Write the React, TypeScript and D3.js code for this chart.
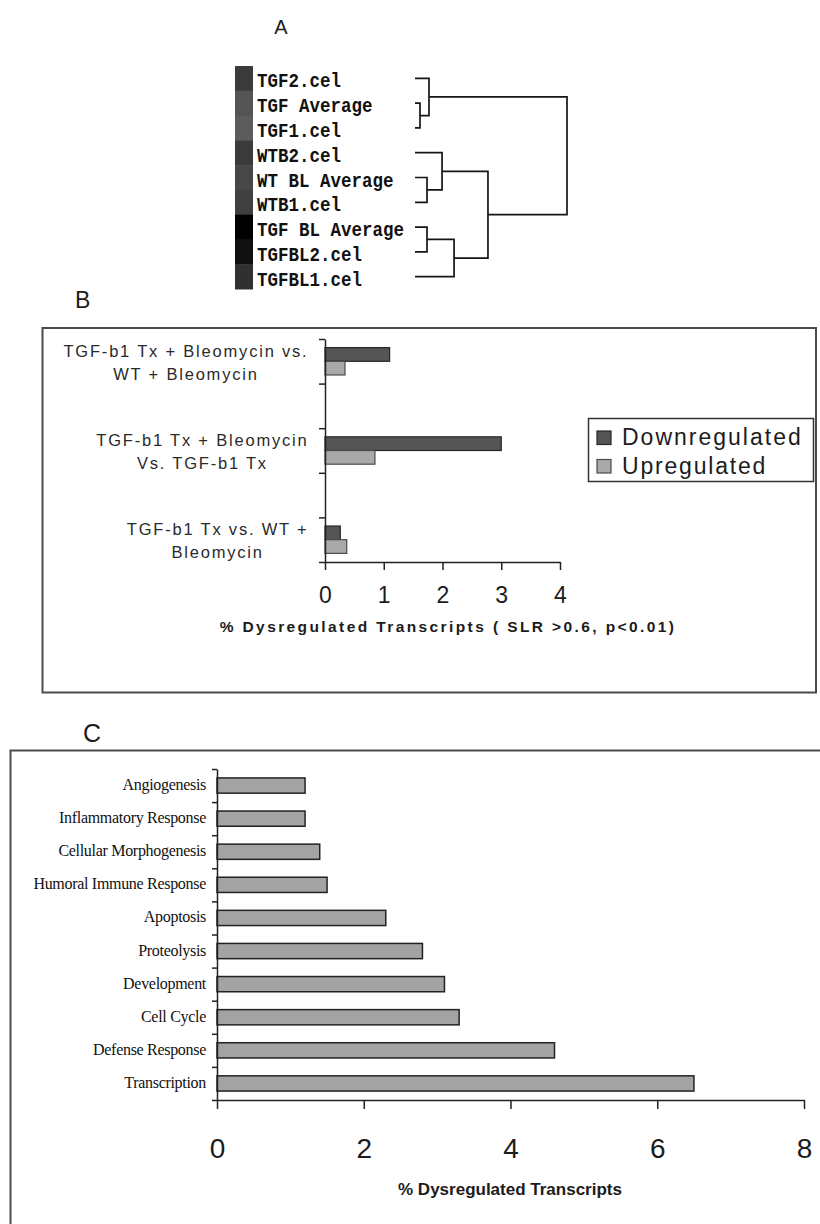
import { useEffect, useRef } from "react";
import * as d3 from "d3";

// ---- panel A: sample clustering ----
const samples = [
  "TGF2.cel",
  "TGF Average",
  "TGF1.cel",
  "WTB2.cel",
  "WT BL Average",
  "WTB1.cel",
  "TGF BL Average",
  "TGFBL2.cel",
  "TGFBL1.cel",
];
// heat-strip intensity, 0 = white, 1 = black
const sampleSignal = [0.77, 0.67, 0.64, 0.77, 0.72, 0.75, 1.0, 0.94, 0.81];
// linkage rows: [left, right, new node, merge distance]
const linkage: [string, string, string, number][] = [
  ["TGF Average", "TGF1.cel", "n1", 0.033],
  ["TGF2.cel", "n1", "n2", 0.092],
  ["WT BL Average", "WTB1.cel", "n3", 0.079],
  ["WTB2.cel", "n3", "n4", 0.178],
  ["TGF BL Average", "TGFBL2.cel", "n5", 0.079],
  ["n5", "TGFBL1.cel", "n6", 0.257],
  ["n4", "n6", "n7", 0.48],
  ["n2", "n7", "root", 1.0],
];

// ---- panel B: dysregulated transcripts per comparison ----
const bCategoryLines: string[][] = [
  ["TGF-b1 Tx + Bleomycin vs.", "WT + Bleomycin"],
  [],
  ["TGF-b1 Tx + Bleomycin", "Vs. TGF-b1 Tx"],
  [],
  ["TGF-b1 Tx vs. WT +", "Bleomycin"],
];
const bSeries = ["Downregulated", "Upregulated"];
const bDown: (number | null)[] = [1.1, null, 3.0, null, 0.26];
const bUp: (number | null)[] = [0.34, null, 0.85, null, 0.37];
const bTicks = [0, 1, 2, 3, 4];

// ---- panel C: GO categories ----
const cCategories = [
  "Angiogenesis",
  "Inflammatory Response",
  "Cellular Morphogenesis",
  "Humoral Immune Response",
  "Apoptosis",
  "Proteolysis",
  "Development",
  "Cell Cycle",
  "Defense Response",
  "Transcription",
];
const cValues = [1.2, 1.2, 1.4, 1.5, 2.3, 2.8, 3.1, 3.3, 4.6, 6.5];
const cTicks = [0, 2, 4, 6, 8];

const SANS = "'Liberation Sans', Arial, sans-serif";
const SERIF = "'Liberation Serif', 'Times New Roman', serif";
const MONO = "'Liberation Mono', 'Courier New', monospace";
const INK = "#1c1c1c";

type Sel = d3.Selection<SVGSVGElement, unknown, null, undefined>;

function drawA(svg: Sel) {
  const g = svg.append("g");
  const rowY = d3.scaleBand<string>().domain(samples).range([66, 289]);
  const shade = d3
    .scaleLinear<string>()
    .domain([0, 1])
    .range(["#ffffff", "#000000"]);

  g.append("text")
    .attr("x", 281)
    .attr("y", 34)
    .attr("text-anchor", "middle")
    .style("font-family", SANS)
    .style("font-size", "20px")
    .style("fill", INK)
    .text("A");

  g.selectAll("rect.cell")
    .data(samples)
    .join("rect")
    .attr("class", "cell")
    .attr("x", 235)
    .attr("width", 18)
    .attr("y", (d) => rowY(d)!)
    .attr("height", rowY.bandwidth() + 0.5)
    .attr("fill", (_d, i) => shade(sampleSignal[i]));

  g.selectAll("text.sample")
    .data(samples)
    .join("text")
    .attr("class", "sample")
    .attr(
      "transform",
      (d) => `translate(257,${rowY(d)! + rowY.bandwidth() / 2 + 9}) scale(1,1.2)`,
    )
    .style("font-family", MONO)
    .style("font-weight", "700")
    .style("font-size", "17.5px")
    .style("fill", "#111")
    .text((d) => d);

  // dendrogram elbows
  const dist = d3.scaleLinear().domain([0, 1]).range([415, 567]);
  const nodeY = new Map<string, number>();
  const nodeH = new Map<string, number>();
  samples.forEach((s) => {
    nodeY.set(s, rowY(s)! + rowY.bandwidth() / 2);
    nodeH.set(s, 0);
  });
  const p = d3.path();
  linkage.forEach(([a, b, id, h]) => {
    const ya = nodeY.get(a)!;
    const yb = nodeY.get(b)!;
    const xn = dist(h);
    p.moveTo(dist(nodeH.get(a)!), ya);
    p.lineTo(xn, ya);
    p.lineTo(xn, yb);
    p.lineTo(dist(nodeH.get(b)!), yb);
    nodeY.set(id, (ya + yb) / 2);
    nodeH.set(id, h);
  });
  g.append("path")
    .attr("d", p.toString())
    .attr("fill", "none")
    .attr("stroke", "#151515")
    .attr("stroke-width", 1.7);
}

function drawB(svg: Sel) {
  const g = svg.append("g");

  g.append("text")
    .attr("x", 75)
    .attr("y", 308)
    .style("font-family", SANS)
    .style("font-size", "23px")
    .style("fill", INK)
    .text("B");

  g.append("rect")
    .attr("x", 42.5)
    .attr("y", 328)
    .attr("width", 773.5)
    .attr("height", 364.5)
    .attr("fill", "none")
    .attr("stroke", "#4a4a4a")
    .attr("stroke-width", 2);

  const n = bCategoryLines.length;
  const x = d3.scaleLinear().domain([0, 4]).range([325, 560]);
  const band = d3.scaleBand<number>().domain(d3.range(n)).range([339, 562]);
  const sub = d3
    .scaleBand<string>()
    .domain(bSeries)
    .range([0, band.bandwidth()])
    .paddingOuter(0.63);
  const tickY = d3.scaleLinear().domain([0, n]).range([339, 562]);
  const fills = ["#555555", "#a9a9a9"];
  const strokes = ["#262626", "#4a4a4a"];

  [bDown, bUp].forEach((vals, s) => {
    vals.forEach((v, i) => {
      if (v == null) return;
      g.append("rect")
        .attr("x", x(0))
        .attr("y", band(i)! + sub(bSeries[s])!)
        .attr("width", x(v) - x(0))
        .attr("height", sub.bandwidth())
        .attr("fill", fills[s])
        .attr("stroke", strokes[s])
        .attr("stroke-width", 1.2);
    });
  });

  // y axis with category separators
  const ya = g
    .append("g")
    .attr("transform", `translate(${x(0)},0)`)
    .call(
      d3
        .axisLeft(tickY)
        .tickValues(d3.range(n + 1))
        .tickFormat(() => "")
        .tickSize(6)
        .tickSizeOuter(0),
    );
  ya.selectAll("path,line").attr("stroke", "#222").attr("stroke-width", 1.5);

  // x axis
  const xa = g
    .append("g")
    .attr("transform", `translate(0,562)`)
    .call(
      d3
        .axisBottom(x)
        .tickValues(bTicks)
        .tickFormat(d3.format("d"))
        .tickSize(8)
        .tickSizeOuter(0)
        .tickPadding(16.7),
    );
  xa.selectAll("path,line").attr("stroke", "#222").attr("stroke-width", 1.5);
  xa.selectAll("text")
    .style("font-family", SANS)
    .style("font-size", "23px")
    .style("fill", INK);

  g.append("text")
    .attr("x", 448)
    .attr("y", 632)
    .attr("text-anchor", "middle")
    .style("font-family", SANS)
    .style("font-weight", "700")
    .style("font-size", "15.5px")
    .style("letter-spacing", "2.4px")
    .style("fill", INK)
    .text("% Dysregulated Transcripts ( SLR >0.6, p<0.01)");

  // category labels: centred lines, block right-aligned to the axis
  bCategoryLines.forEach((lines, i) => {
    if (!lines.length) return;
    const cy = band(i)! + band.bandwidth() / 2;
    const texts = lines.map((ln, k) =>
      g
        .append("text")
        .attr("y", cy - 4.5 + k * 22.8)
        .attr("text-anchor", "middle")
        .style("font-family", SANS)
        .style("font-size", "16.5px")
        .style("letter-spacing", "1.8px")
        .style("fill", "#2a2a2a")
        .text(ln),
    );
    const maxW = d3.max(texts, (t) =>
      (t.node() as SVGTextElement).getComputedTextLength(),
    )!;
    texts.forEach((t) => t.attr("x", 308.5 - maxW / 2));
  });

  // legend
  const lg = g.append("g");
  lg.append("rect")
    .attr("x", 588.5)
    .attr("y", 418.5)
    .attr("width", 225)
    .attr("height", 63)
    .attr("fill", "#fff")
    .attr("stroke", "#333")
    .attr("stroke-width", 1.5);
  bSeries.forEach((name, s) => {
    const base = 445 + s * 28.5;
    lg.append("rect")
      .attr("x", 597)
      .attr("y", base - 14)
      .attr("width", 14)
      .attr("height", 13.5)
      .attr("fill", fills[s])
      .attr("stroke", strokes[s])
      .attr("stroke-width", 1.2);
    lg.append("text")
      .attr("x", 622)
      .attr("y", base)
      .style("font-family", SANS)
      .style("font-size", "23px")
      .style("letter-spacing", s === 0 ? "2px" : "1.8px")
      .style("fill", INK)
      .text(name);
  });
}

function drawC(svg: Sel) {
  const g = svg.append("g");

  g.append("text")
    .attr("x", 83)
    .attr("y", 742)
    .style("font-family", SANS)
    .style("font-size", "25px")
    .style("fill", INK)
    .text("C");

  g.append("rect")
    .attr("x", 10.5)
    .attr("y", 750.5)
    .attr("width", 900)
    .attr("height", 600)
    .attr("fill", "none")
    .attr("stroke", "#4a4a4a")
    .attr("stroke-width", 2);

  const n = cCategories.length;
  const x = d3.scaleLinear().domain([0, 8]).range([217, 804]);
  const band = d3
    .scaleBand<string>()
    .domain(cCategories)
    .range([769, 1100])
    .paddingInner(0.54)
    .paddingOuter(0.27);
  const tickY = d3.scaleLinear().domain([0, n]).range([769, 1100]);

  g.selectAll("rect.bar")
    .data(cCategories)
    .join("rect")
    .attr("class", "bar")
    .attr("x", x(0))
    .attr("y", (d) => band(d)!)
    .attr("width", (_d, i) => x(cValues[i]) - x(0))
    .attr("height", band.bandwidth())
    .attr("fill", "#a3a3a3")
    .attr("stroke", "#222")
    .attr("stroke-width", 1.5);

  const ya = g
    .append("g")
    .attr("transform", `translate(${x(0)},0)`)
    .call(
      d3
        .axisLeft(tickY)
        .tickValues(d3.range(n + 1))
        .tickFormat(() => "")
        .tickSize(5)
        .tickSizeOuter(0),
    );
  ya.selectAll("path,line").attr("stroke", "#222").attr("stroke-width", 1.5);

  const xa = g
    .append("g")
    .attr("transform", `translate(0,1100)`)
    .call(
      d3
        .axisBottom(x)
        .tickValues(cTicks)
        .tickFormat(d3.format("d"))
        .tickSize(9)
        .tickSizeOuter(0)
        .tickPadding(29),
    );
  xa.selectAll("path,line").attr("stroke", "#222").attr("stroke-width", 1.5);
  xa.selectAll("text")
    .style("font-family", SANS)
    .style("font-size", "28px")
    .style("fill", INK);

  g.selectAll("text.cat")
    .data(cCategories)
    .join("text")
    .attr("class", "cat")
    .attr("x", 206)
    .attr("y", (d) => band(d)! + band.bandwidth() / 2 + 4.5)
    .attr("text-anchor", "end")
    .style("font-family", SERIF)
    .style("font-size", "16px")
    .style("letter-spacing", "-0.3px")
    .style("fill", "#111")
    .text((d) => d);

  g.append("text")
    .attr("x", 510)
    .attr("y", 1195)
    .attr("text-anchor", "middle")
    .style("font-family", SANS)
    .style("font-weight", "700")
    .style("font-size", "17px")
    .style("fill", INK)
    .text("% Dysregulated Transcripts");
}

export default function App() {
  const svgRef = useRef<SVGSVGElement>(null);

  useEffect(() => {
    if (!svgRef.current) return;
    const svg = d3.select(svgRef.current);
    svg.selectAll("*").remove();
    drawA(svg);
    drawB(svg);
    drawC(svg);
  }, []);

  return (
    <svg
      ref={svgRef}
      width={820}
      height={1224}
      style={{ position: "absolute", left: 0, top: 0, background: "#fff" }}
    />
  );
}
